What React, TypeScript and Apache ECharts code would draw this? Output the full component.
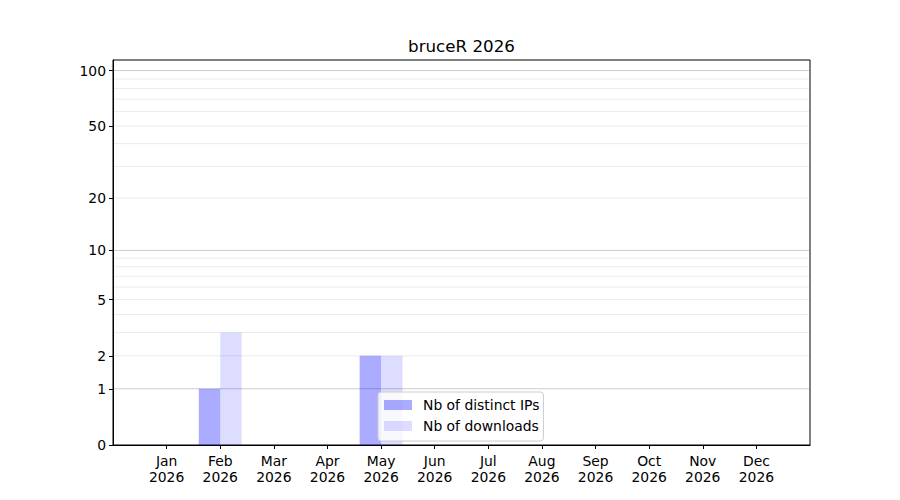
import React, { useEffect, useRef } from "react";
import * as echarts from "echarts";

const months = ["Jan", "Feb", "Mar", "Apr", "May", "Jun", "Jul", "Aug", "Sep", "Oct", "Nov", "Dec"];
const year = "2026";
const distinctIPs = [0, 1, 0, 0, 2, 0, 0, 0, 0, 0, 0, 0];
const downloads = [0, 3, 0, 0, 2, 0, 0, 0, 0, 0, 0, 0];
const yTickValues = [0, 1, 2, 5, 10, 20, 50, 100];
const majorGrid = [1, 10, 100];
const minorGrid = [2, 3, 4, 5, 6, 7, 8, 9, 20, 30, 40, 50, 60, 70, 80, 90];
const yMaxValue = 114;
const titleText = "bruceR 2026";
const seriesNames = ["Nb of distinct IPs", "Nb of downloads"];

const FONT = "DejaVu Sans";
const tf = (v: number) => Math.log10(1 + v);

export default function App() {
  const ref = useRef<HTMLDivElement>(null);
  useEffect(() => {
    if (!ref.current) return;
    const chart = echarts.init(ref.current, undefined, { renderer: "svg" });
    const cats = ["", ...months, ""];
    const last = cats.length - 1;
    const pad = (arr: number[]) => ["-", ...arr.map(tf), "-"];
    const gridData = [
      ...minorGrid.map((v) => [0, tf(v), 0]),
      ...majorGrid.map((v) => [0, tf(v), 1]),
    ];
    chart.setOption({
      animation: false,
      backgroundColor: "#ffffff",
      textStyle: { fontFamily: FONT },
      graphic: [
        {
          type: "text",
          x: 461.5,
          y: 46,
          style: {
            text: titleText,
            fontFamily: FONT,
            fontSize: 16.7,
            fill: "#000",
            align: "center",
            verticalAlign: "middle",
          },
        },
      ],
      grid: {
        left: 113,
        right: 90,
        top: 60,
        bottom: 55,
        show: true,
        borderColor: "#000",
        borderWidth: 1,
        backgroundColor: "transparent",
      },
      legend: {
        data: seriesNames,
        orient: "vertical",
        left: 378,
        top: 392,
        icon: "rect",
        itemWidth: 28,
        itemHeight: 10,
        itemGap: 5,
        padding: [5, 4, 7, 6],
        backgroundColor: "rgba(255,255,255,0.8)",
        borderColor: "#cccccc",
        borderWidth: 1,
        borderRadius: 3,
        textStyle: { fontFamily: FONT, fontSize: 13.9, color: "#000", padding: [0, 0, 0, 6], lineHeight: 16 },
      },
      xAxis: {
        type: "category",
        data: cats,
        boundaryGap: false,
        axisLine: { show: true, lineStyle: { color: "#000", width: 1 } },
        axisTick: {
          show: true,
          length: 4,
          lineStyle: { color: "#000" },
          interval: (_i: number, v: string) => v !== "",
        },
        axisLabel: {
          interval: (_i: number, v: string) => v !== "",
          formatter: (v: string) => (v ? `${v}\n${year}` : ""),
          fontFamily: FONT,
          fontSize: 13.9,
          lineHeight: 16,
          color: "#000",
          margin: 8,
        },
        splitLine: { show: false },
      },
      yAxis: {
        type: "value",
        min: 0,
        max: tf(yMaxValue),
        axisLine: { show: true, lineStyle: { color: "#000", width: 1 } },
        axisTick: { show: true, length: 4, lineStyle: { color: "#000" }, customValues: yTickValues.map(tf) },
        axisLabel: {
          customValues: yTickValues.map(tf),
          formatter: (v: number) => String(Math.round(Math.pow(10, v) - 1)),
          fontFamily: FONT,
          fontSize: 13.9,
          color: "#000",
          margin: 7,
        },
        splitLine: { show: false },
        minorTick: { show: false },
        minorSplitLine: { show: false },
      },
      series: [
        {
          type: "custom",
          data: gridData,
          z: 1,
          silent: true,
          clip: true,
          renderItem: (_params: any, api: any) => {
            const y = api.value(1);
            const p1 = api.coord([0, y]);
            const p2 = api.coord([last, y]);
            return {
              type: "line",
              silent: true,
              shape: { x1: p1[0] + 1, y1: p1[1], x2: p2[0] - 1, y2: p2[1] },
              style: { stroke: api.value(2) ? "#cccccc" : "#ebebeb", lineWidth: 1 },
            };
          },
        },
        {
          name: seriesNames[0],
          type: "bar",
          data: pad(distinctIPs),
          barWidth: "40%",
          barGap: "0%",
          z: 2,
          itemStyle: { color: "rgba(0,0,255,0.33)" },
        },
        {
          name: seriesNames[1],
          type: "bar",
          data: pad(downloads),
          barWidth: "40%",
          barGap: "0%",
          z: 2,
          itemStyle: { color: "rgba(0,0,255,0.133)" },
        },
      ],
    });
    return () => chart.dispose();
  }, []);
  return <div ref={ref} style={{ position: "fixed", left: 0, top: 0, width: 900, height: 500 }} />;
}
